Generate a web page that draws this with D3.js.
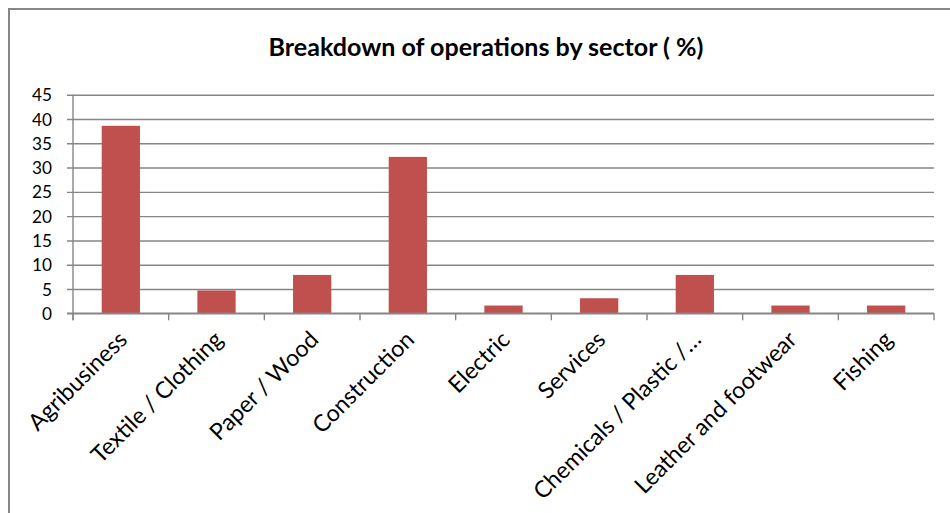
<!DOCTYPE html>
<html>
<head>
<meta charset="utf-8">
<script src="https://cdn.jsdelivr.net/npm/d3@7"></script>
<style>
  html, body { margin: 0; padding: 0; background: #fff; }
  svg { display: block; }
  text { font-family: Lato, "Open Sans", sans-serif; fill: #000; }
</style>
</head>
<body>
<svg id="chart" width="950" height="513"></svg>
<script>
// Share of operations per sector, in percent
const sectors = [
  "Agribusiness", "Textile / Clothing", "Paper / Wood", "Construction",
  "Electric", "Services", "Chemicals / Plastic /\u2026", "Leather and footwear", "Fishing"
];
const shares = [38.6, 4.7, 7.9, 32.2, 1.6, 3.1, 7.9, 1.6, 1.6];
const yTicks = [0, 5, 10, 15, 20, 25, 30, 35, 40, 45];
const chartTitle = "Breakdown of operations by sector ( %)";

const svg = d3.select("#chart");
const W = 950, H = 513;
const plot = { left: 73, right: 934, top: 94.7, bottom: 313.3 };

// Resize a text element so its rendered width equals `target` pixels
function fitWidth(sel, target) {
  const node = sel.node();
  const size = parseFloat(sel.attr("font-size"));
  const w = node.getComputedTextLength();
  const fitted = size * target / w;
  sel.attr("font-size", fitted);
  return fitted;
}

// Chart frame (only left and top edges fall inside the view)
svg.append("path")
  .attr("d", `M9,${H + 5}V9H${W + 5}`)
  .attr("fill", "none")
  .attr("stroke", "#878787")
  .attr("stroke-width", 2);

const title = svg.append("text")
  .attr("x", 486)
  .attr("y", 56)
  .attr("text-anchor", "middle")
  .attr("font-size", 20)
  .attr("font-weight", "bold")
  .text(chartTitle);
fitWidth(title, 435);

// Common label size from the widest category name
const probe = svg.append("text").attr("font-size", 17).text("Leather and footwear");
const labelSize = fitWidth(probe, 218);
probe.remove();
const probeTick = svg.append("text").attr("font-size", 17).text("45");
const tickSize = fitWidth(probeTick, 20);
probeTick.remove();

const x = d3.scaleBand()
  .domain(sectors)
  .range([plot.left, plot.right])
  .paddingInner(0.6)
  .paddingOuter(0.3);

const y = d3.scaleLinear()
  .domain([0, 45])
  .range([plot.bottom, plot.top]);

// Horizontal gridlines with short ticks left of the axis
const yAxis = d3.axisLeft(y)
  .tickValues(yTicks)
  .tickSize(-(plot.right - plot.left))
  .tickPadding(0)
  .tickFormat(d3.format("d"));

const gy = svg.append("g")
  .attr("transform", `translate(${plot.left},0)`)
  .call(yAxis);
gy.select(".domain").remove();
gy.selectAll(".tick line")
  .attr("x1", -6)
  .attr("stroke", "#868686")
  .attr("stroke-width", 1.4);
gy.selectAll(".tick text")
  .attr("x", -21)
  .attr("font-family", "Lato, 'Open Sans', sans-serif")
  .attr("font-size", tickSize)
  .attr("dy", "0.35em");

// Vertical axis line
svg.append("line")
  .attr("x1", plot.left).attr("x2", plot.left)
  .attr("y1", plot.top).attr("y2", plot.bottom + 7)
  .attr("stroke", "#868686")
  .attr("stroke-width", 1.4);

// Bars
svg.append("g")
  .selectAll("rect")
  .data(sectors.map((s, i) => ({ s, v: shares[i] })))
  .join("rect")
  .attr("x", d => x(d.s))
  .attr("width", x.bandwidth())
  .attr("y", d => y(d.v))
  .attr("height", d => y(0) - y(d.v))
  .attr("fill", "#C0504D");

// Category axis: ticks between categories, rotated labels
const boundaries = d3.range(sectors.length + 1).map(i => plot.left + i * (plot.right - plot.left) / sectors.length);
svg.append("line")
  .attr("x1", plot.left - 6).attr("x2", plot.right)
  .attr("y1", plot.bottom).attr("y2", plot.bottom)
  .attr("stroke", "#868686")
  .attr("stroke-width", 1.4);
svg.append("g")
  .selectAll("line")
  .data(boundaries)
  .join("line")
  .attr("x1", d => d).attr("x2", d => d)
  .attr("y1", plot.bottom).attr("y2", plot.bottom + 7)
  .attr("stroke", "#868686")
  .attr("stroke-width", 1.4);

svg.append("g")
  .selectAll("text")
  .data(sectors)
  .join("text")
  .attr("transform", d => `translate(${x(d) + x.bandwidth() / 2 + 2},${plot.bottom + 22}) rotate(-45)`)
  .attr("text-anchor", "end")
  .attr("dy", "0.35em")
  .attr("font-size", labelSize)
  .text(d => d);
</script>
</body>
</html>
